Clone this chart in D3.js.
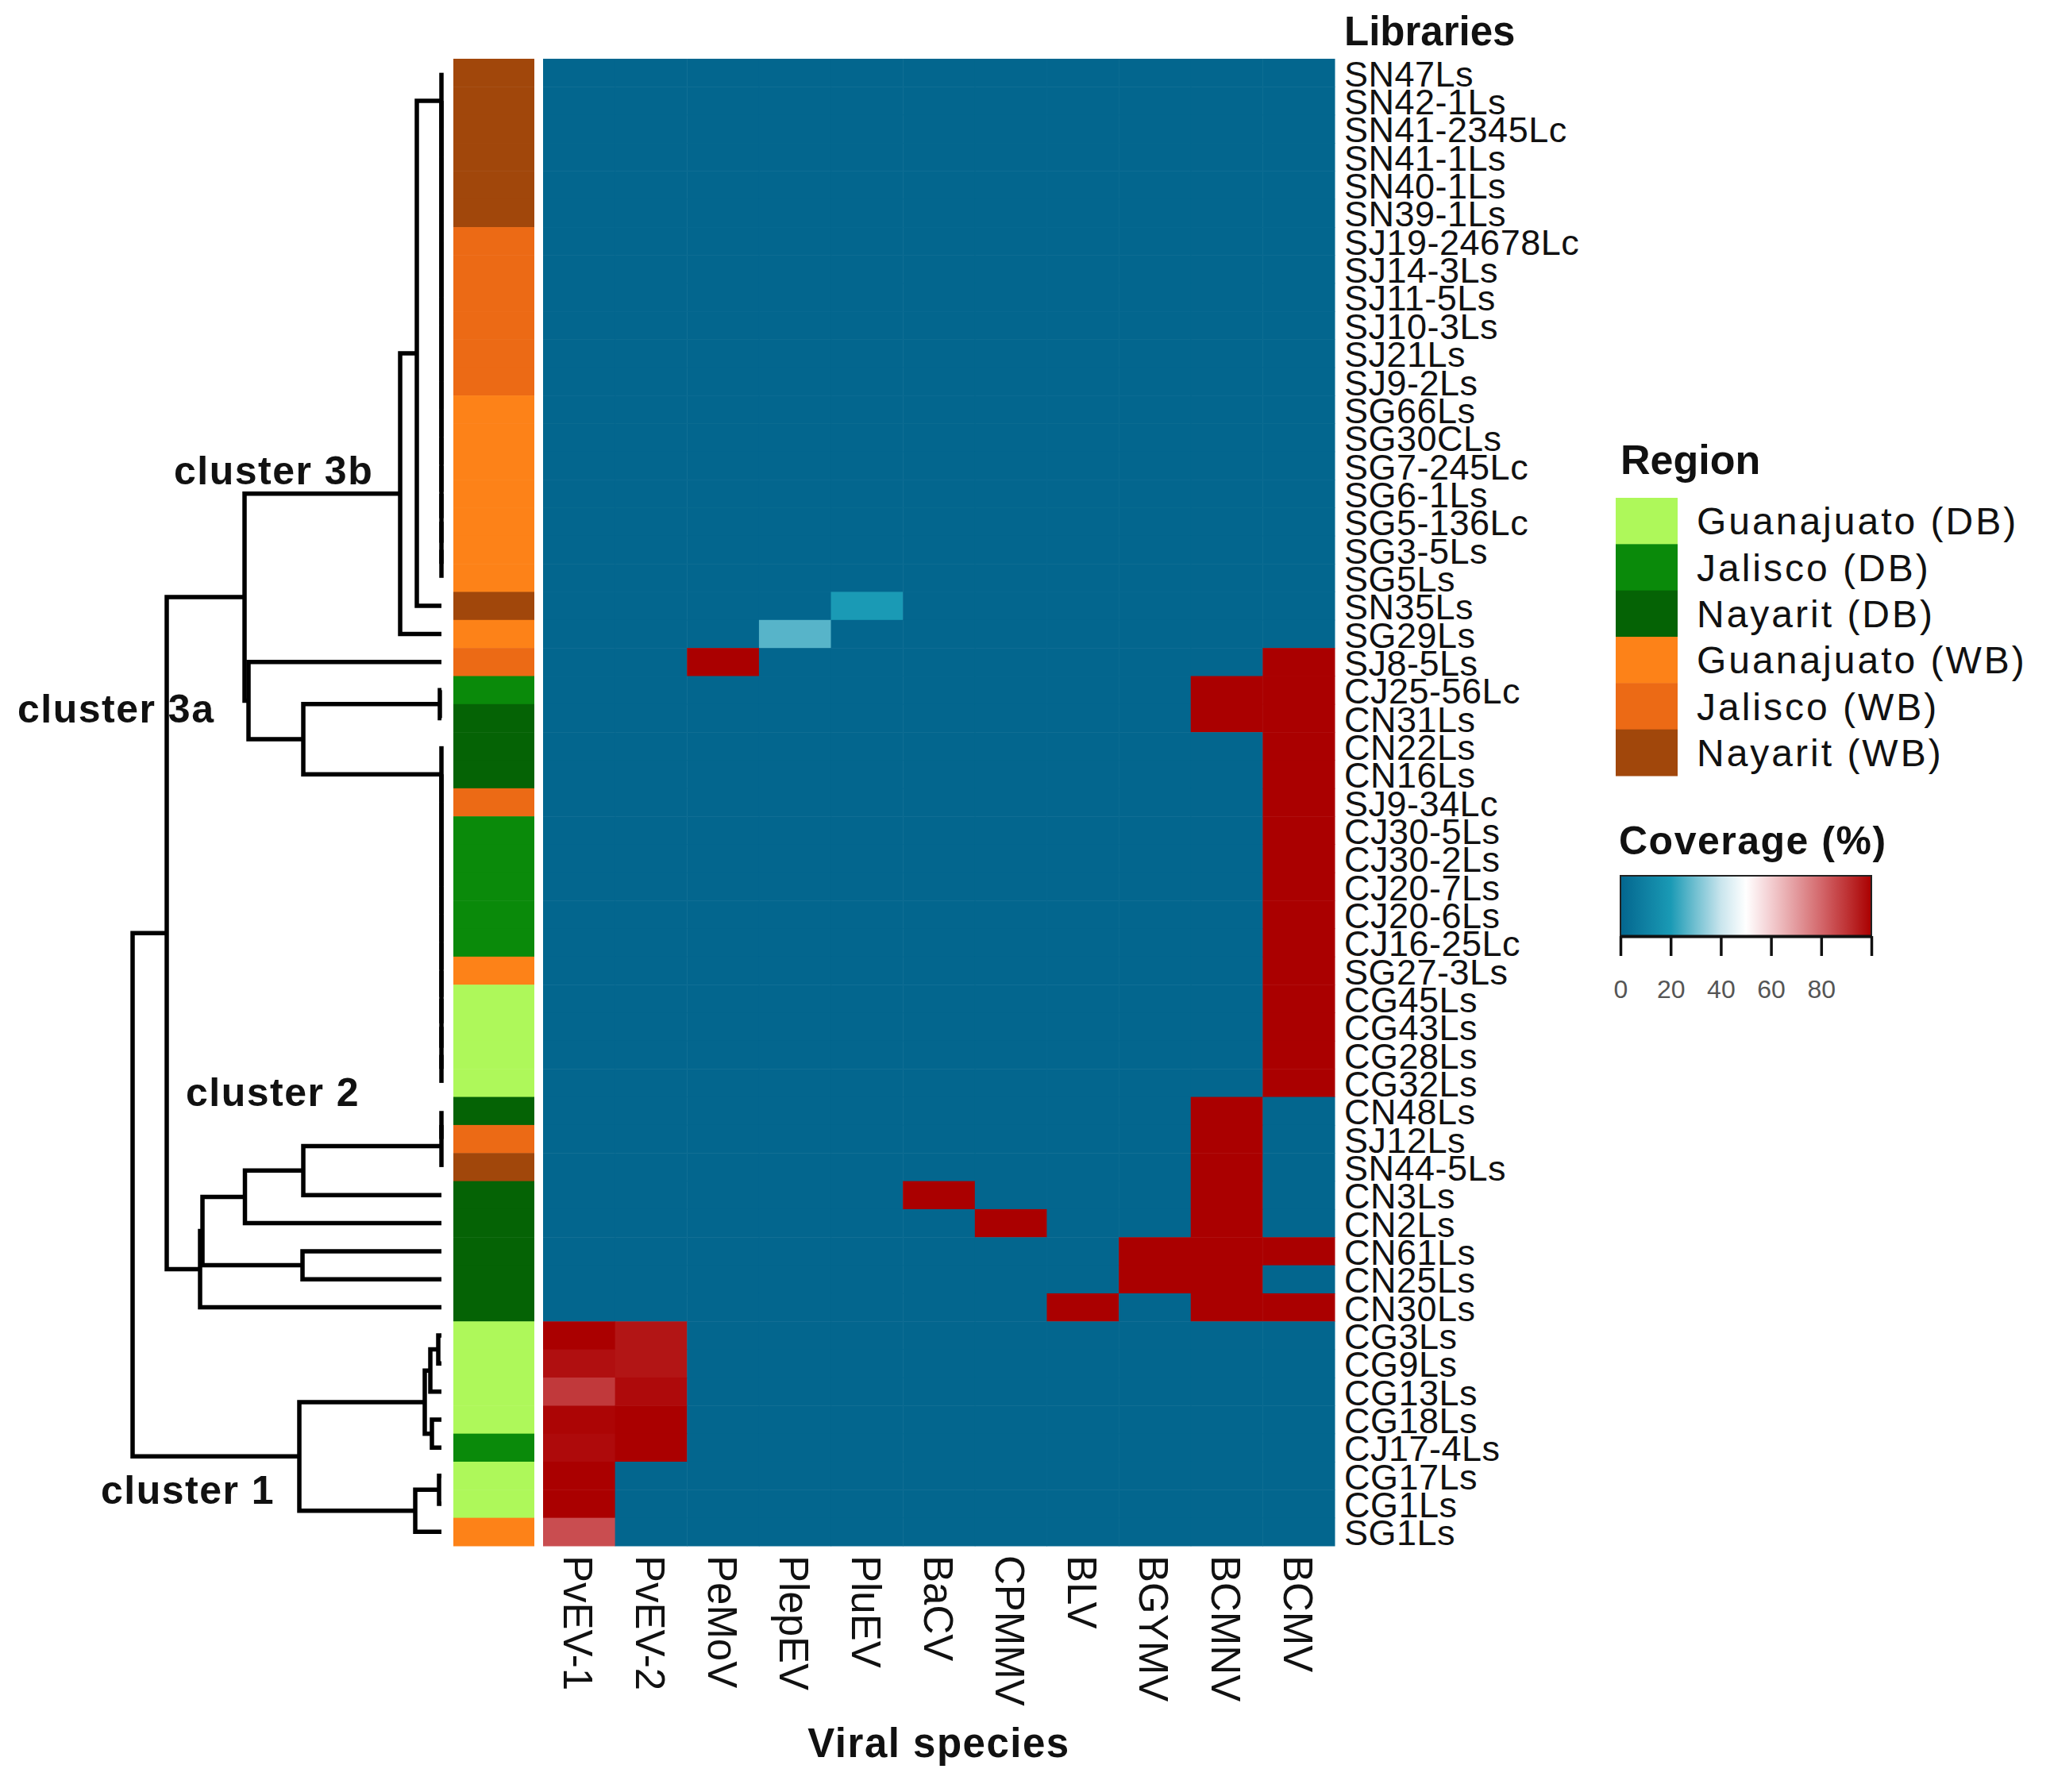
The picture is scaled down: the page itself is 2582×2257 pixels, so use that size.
<!DOCTYPE html>
<html>
<head>
<meta charset="utf-8">
<script src="https://cdn.jsdelivr.net/npm/d3@7"></script>
<style>
  body { margin: 0; background: #fff; }
  svg { display: block; font-family: 'Liberation Sans', Arial, sans-serif; }
</style>
</head>
<body>
<script>
// ---- data -------------------------------------------------------------

const libraries = [
  'SN47Ls', 'SN42-1Ls', 'SN41-2345Lc', 'SN41-1Ls', 'SN40-1Ls', 'SN39-1Ls',
  'SJ19-24678Lc', 'SJ14-3Ls', 'SJ11-5Ls', 'SJ10-3Ls', 'SJ21Ls', 'SJ9-2Ls',
  'SG66Ls', 'SG30CLs', 'SG7-245Lc', 'SG6-1Ls', 'SG5-136Lc', 'SG3-5Ls', 'SG5Ls',
  'SN35Ls', 'SG29Ls', 'SJ8-5Ls', 'CJ25-56Lc', 'CN31Ls', 'CN22Ls', 'CN16Ls',
  'SJ9-34Lc', 'CJ30-5Ls', 'CJ30-2Ls', 'CJ20-7Ls', 'CJ20-6Ls', 'CJ16-25Lc',
  'SG27-3Ls', 'CG45Ls', 'CG43Ls', 'CG28Ls', 'CG32Ls', 'CN48Ls', 'SJ12Ls',
  'SN44-5Ls', 'CN3Ls', 'CN2Ls', 'CN61Ls', 'CN25Ls', 'CN30Ls', 'CG3Ls', 'CG9Ls',
  'CG13Ls', 'CG18Ls', 'CJ17-4Ls', 'CG17Ls', 'CG1Ls', 'SG1Ls',
];

const viruses = ['PvEV-1', 'PvEV-2', 'PeMoV', 'PlepEV', 'PluEV', 'BaCV',
  'CPMMV', 'BLV', 'BGYMV', 'BCMNV', 'BCMV'];

const regionCodes = ['GDB', 'JDB', 'NDB', 'GWB', 'JWB', 'NWB'];
const regionNames = ['Guanajuato (DB)', 'Jalisco (DB)', 'Nayarit (DB)',
  'Guanajuato (WB)', 'Jalisco (WB)', 'Nayarit (WB)'];
const regionColors = ['#aef85a', '#0a8a0a', '#056305', '#fd8218', '#ec6a15', '#a1470b'];

// one region per library, same order as libraries
const libraryRegion = [
  'NWB', 'NWB', 'NWB', 'NWB', 'NWB', 'NWB',
  'JWB', 'JWB', 'JWB', 'JWB', 'JWB', 'JWB',
  'GWB', 'GWB', 'GWB', 'GWB', 'GWB', 'GWB', 'GWB',
  'NWB', 'GWB', 'JWB', 'JDB', 'NDB', 'NDB', 'NDB',
  'JWB', 'JDB', 'JDB', 'JDB', 'JDB', 'JDB',
  'GWB', 'GDB', 'GDB', 'GDB', 'GDB', 'NDB', 'JWB',
  'NWB', 'NDB', 'NDB', 'NDB', 'NDB', 'NDB', 'GDB', 'GDB',
  'GDB', 'GDB', 'JDB', 'GDB', 'GDB', 'GWB',
];

// coverage (%) per library, columns in the order of viruses
const coverage = [
  [0, 0, 0, 0, 0, 0, 0, 0, 0, 0, 0],        // SN47Ls
  [0, 0, 0, 0, 0, 0, 0, 0, 0, 0, 0],
  [0, 0, 0, 0, 0, 0, 0, 0, 0, 0, 0],
  [0, 0, 0, 0, 0, 0, 0, 0, 0, 0, 0],
  [0, 0, 0, 0, 0, 0, 0, 0, 0, 0, 0],
  [0, 0, 0, 0, 0, 0, 0, 0, 0, 0, 0],
  [0, 0, 0, 0, 0, 0, 0, 0, 0, 0, 0],        // SJ19-24678Lc
  [0, 0, 0, 0, 0, 0, 0, 0, 0, 0, 0],
  [0, 0, 0, 0, 0, 0, 0, 0, 0, 0, 0],
  [0, 0, 0, 0, 0, 0, 0, 0, 0, 0, 0],
  [0, 0, 0, 0, 0, 0, 0, 0, 0, 0, 0],
  [0, 0, 0, 0, 0, 0, 0, 0, 0, 0, 0],
  [0, 0, 0, 0, 0, 0, 0, 0, 0, 0, 0],        // SG66Ls
  [0, 0, 0, 0, 0, 0, 0, 0, 0, 0, 0],
  [0, 0, 0, 0, 0, 0, 0, 0, 0, 0, 0],
  [0, 0, 0, 0, 0, 0, 0, 0, 0, 0, 0],
  [0, 0, 0, 0, 0, 0, 0, 0, 0, 0, 0],
  [0, 0, 0, 0, 0, 0, 0, 0, 0, 0, 0],
  [0, 0, 0, 0, 0, 0, 0, 0, 0, 0, 0],        // SG5Ls
  [0, 0, 0, 0, 20, 0, 0, 0, 0, 0, 0],       // SN35Ls
  [0, 0, 0, 27, 0, 0, 0, 0, 0, 0, 0],       // SG29Ls
  [0, 0, 100, 0, 0, 0, 0, 0, 0, 0, 100],    // SJ8-5Ls
  [0, 0, 0, 0, 0, 0, 0, 0, 0, 100, 100],    // CJ25-56Lc
  [0, 0, 0, 0, 0, 0, 0, 0, 0, 100, 100],    // CN31Ls
  [0, 0, 0, 0, 0, 0, 0, 0, 0, 0, 100],      // CN22Ls
  [0, 0, 0, 0, 0, 0, 0, 0, 0, 0, 100],
  [0, 0, 0, 0, 0, 0, 0, 0, 0, 0, 100],
  [0, 0, 0, 0, 0, 0, 0, 0, 0, 0, 100],
  [0, 0, 0, 0, 0, 0, 0, 0, 0, 0, 100],
  [0, 0, 0, 0, 0, 0, 0, 0, 0, 0, 100],
  [0, 0, 0, 0, 0, 0, 0, 0, 0, 0, 100],
  [0, 0, 0, 0, 0, 0, 0, 0, 0, 0, 100],
  [0, 0, 0, 0, 0, 0, 0, 0, 0, 0, 100],
  [0, 0, 0, 0, 0, 0, 0, 0, 0, 0, 100],
  [0, 0, 0, 0, 0, 0, 0, 0, 0, 0, 100],
  [0, 0, 0, 0, 0, 0, 0, 0, 0, 0, 100],
  [0, 0, 0, 0, 0, 0, 0, 0, 0, 0, 100],      // CG32Ls
  [0, 0, 0, 0, 0, 0, 0, 0, 0, 100, 0],      // CN48Ls
  [0, 0, 0, 0, 0, 0, 0, 0, 0, 100, 0],
  [0, 0, 0, 0, 0, 0, 0, 0, 0, 100, 0],
  [0, 0, 0, 0, 0, 100, 0, 0, 0, 100, 0],    // CN3Ls
  [0, 0, 0, 0, 0, 0, 100, 0, 0, 100, 0],    // CN2Ls
  [0, 0, 0, 0, 0, 0, 0, 0, 100, 100, 100],  // CN61Ls
  [0, 0, 0, 0, 0, 0, 0, 0, 100, 100, 0],    // CN25Ls
  [0, 0, 0, 0, 0, 0, 0, 100, 0, 100, 100],  // CN30Ls
  [100, 96, 0, 0, 0, 0, 0, 0, 0, 0, 0],     // CG3Ls
  [97, 96, 0, 0, 0, 0, 0, 0, 0, 0, 0],
  [89, 98, 0, 0, 0, 0, 0, 0, 0, 0, 0],
  [99, 100, 0, 0, 0, 0, 0, 0, 0, 0, 0],
  [98, 100, 0, 0, 0, 0, 0, 0, 0, 0, 0],     // CJ17-4Ls
  [100, 0, 0, 0, 0, 0, 0, 0, 0, 0, 0],
  [100, 0, 0, 0, 0, 0, 0, 0, 0, 0, 0],
  [85, 0, 0, 0, 0, 0, 0, 0, 0, 0, 0],       // SG1Ls
];

// hclust style merges: negative = library (1-based row), positive = earlier merge
const mergePairs = [
  [-18, -19], [-17, 1], [-16, 2], [-15, 3], [-14, 4], [-13, 5], [-12, 6],
  [-11, 7], [-10, 8], [-9, 9], [-8, 10], [-7, 11], [-6, 12], [-5, 13],
  [-4, 14], [-3, 15], [-2, 16], [-1, 17],
  [-36, -37], [-35, 19], [-34, 20], [-33, 21], [-32, 22], [-31, 23],
  [-30, 24], [-29, 25], [-28, 26], [-27, 27], [-26, 28], [-25, 29],
  [-38, -39], [31, -40],
  [-23, -24], [-51, -52], [-46, -47], [-49, -50], [35, -48], [37, 36],
  [18, -20], [34, -53], [39, -21], [32, -41], [33, 30], [-43, -44],
  [38, 40], [-22, 43], [41, 46], [42, -42], [48, 44], [49, -45],
  [47, 50], [51, 45],
];
const mergeHeights = [
  0, 0, 0, 0, 0, 0, 0, 0, 0, 0, 0, 0, 0, 0, 0, 0, 0, 0,
  0, 0, 0, 0, 0, 0, 0, 0, 0, 0, 0, 0,
  0, 0,
  0.04, 0.06, 0.08, 0.24, 0.28, 0.42,
  0.62, 0.66, 1.04, 3.48, 3.48, 3.50,
  3.58, 4.86, 4.96, 4.95, 6.02, 6.08,
  6.92, 7.78,
];

const clusterLabels = ['cluster 3b', 'cluster 3a', 'cluster 2', 'cluster 1'];
const clusterNodes = [41, 43, 50, 45];

const coverageStops = [0, 20, 40, 50, 60, 80, 100];
const coverageColors = ['#03668e', '#1a9ab5', '#c9e5ed', '#ffffff', '#f3cdd0', '#d3676b', '#aa0000'];
const coverageTicks = [0, 20, 40, 60, 80, 100];

// ---- layout -----------------------------------------------------------

const w = 2582;
const h = 2257;
const heat = { left: 684, right: 1681, top: 74, bottom: 1947 };
const annot = { left: 571, right: 673 };
const dendro = { leaf: 556, root: 167 };
// label offsets from their cluster node
const clusterOffsets = [[-285, -12], [-360, -21], [-18, -206], [-250, 60]];

const svg = d3.select('body').append('svg').attr('width', w).attr('height', h);

const x = d3.scaleBand().domain(viruses).range([heat.left, heat.right]);
const y = d3.scaleBand().domain(libraries).range([heat.top, heat.bottom]);
const color = d3.scaleLinear().domain(coverageStops).range(coverageColors);
const regionColor = d3.scaleOrdinal().domain(regionCodes).range(regionColors);
const hx = d3.scaleLinear().domain([0, d3.max(mergeHeights)]).range([dendro.leaf, dendro.root]);

// ---- heatmap ----------------------------------------------------------

const cells = libraries.flatMap((lib, i) =>
  viruses.map((v, j) => ({ lib, v, value: coverage[i][j] }))
);

svg.append('g')
  .selectAll('rect')
  .data(cells)
  .enter()
  .append('rect')
  .attr('x', (d) => x(d.v))
  .attr('y', (d) => y(d.lib))
  .attr('width', x.bandwidth() + 0.5)
  .attr('height', y.bandwidth() + 0.5)
  .attr('fill', (d) => color(d.value));

// region annotation
svg.append('g')
  .selectAll('rect')
  .data(libraries)
  .enter()
  .append('rect')
  .attr('x', annot.left)
  .attr('y', (d) => y(d))
  .attr('width', annot.right - annot.left)
  .attr('height', y.bandwidth() + 0.5)
  .attr('fill', (d, i) => regionColor(libraryRegion[i]));

// row labels
svg.append('g')
  .selectAll('text')
  .data(libraries)
  .enter()
  .append('text')
  .attr('x', heat.right + 12)
  .attr('y', (d) => y(d) + y.bandwidth() / 2)
  .attr('dy', '0.38em')
  .attr('font-size', 45)
  .attr('letter-spacing', 0.5)
  .attr('fill', '#111')
  .text((d) => d);

svg.append('text')
  .attr('x', heat.right + 12)
  .attr('y', 57)
  .attr('font-size', 51)
  .attr('font-weight', 'bold')
  .attr('fill', '#111')
  .text('Libraries');

// column labels, rotated
svg.append('g')
  .selectAll('text')
  .data(viruses)
  .enter()
  .append('text')
  .attr('transform', (d) => `translate(${x(d) + x.bandwidth() / 2 - 19}, ${heat.bottom + 12}) rotate(90)`)
  .attr('font-size', 51)
  .attr('fill', '#111')
  .text((d) => d);

svg.append('text')
  .attr('x', (heat.left + heat.right) / 2)
  .attr('y', 2213)
  .attr('text-anchor', 'middle')
  .attr('font-size', 51)
  .attr('font-weight', 'bold')
  .attr('letter-spacing', 1.5)
  .attr('fill', '#111')
  .text('Viral species');

// ---- dendrogram -------------------------------------------------------

const nodes = [];
const nodeOf = (ref) =>
  ref < 0
    ? { y: y(libraries[-ref - 1]) + y.bandwidth() / 2, h: 0 }
    : nodes[ref - 1];

mergePairs.forEach(([a, b], i) => {
  const pa = nodeOf(a);
  const pb = nodeOf(b);
  nodes.push({ a: pa, b: pb, h: mergeHeights[i], y: (pa.y + pb.y) / 2 });
});

svg.append('g')
  .selectAll('path')
  .data(nodes)
  .enter()
  .append('path')
  .attr('d', (d) => {
    const p = d3.path();
    p.moveTo(hx(d.a.h), d.a.y);
    p.lineTo(hx(d.h), d.a.y);
    p.lineTo(hx(d.h), d.b.y);
    p.lineTo(hx(d.b.h), d.b.y);
    return p.toString();
  })
  .attr('fill', 'none')
  .attr('stroke', '#000')
  .attr('stroke-width', 5.5);

svg.append('g')
  .selectAll('text')
  .data(clusterLabels)
  .enter()
  .append('text')
  .attr('x', (d, i) => hx(nodes[clusterNodes[i] - 1].h) + clusterOffsets[i][0])
  .attr('y', (d, i) => nodes[clusterNodes[i] - 1].y + clusterOffsets[i][1])
  .attr('font-size', 50)
  .attr('font-weight', 'bold')
  .attr('letter-spacing', 1.5)
  .attr('fill', '#111')
  .text((d) => d);

// ---- legends ----------------------------------------------------------

const legend = svg.append('g').attr('transform', 'translate(2035, 0)');

legend.append('text')
  .attr('x', 6)
  .attr('y', 597)
  .attr('font-size', 52)
  .attr('font-weight', 'bold')
  .attr('fill', '#111')
  .text('Region');

const swatch = d3.scaleBand().domain(regionCodes).range([627, 977]);

legend.selectAll('rect.region')
  .data(regionCodes)
  .enter()
  .append('rect')
  .attr('class', 'region')
  .attr('x', 0)
  .attr('y', (d) => swatch(d))
  .attr('width', 78)
  .attr('height', swatch.bandwidth() + 0.5)
  .attr('fill', (d) => regionColor(d));

legend.selectAll('text.region')
  .data(regionCodes)
  .enter()
  .append('text')
  .attr('class', 'region')
  .attr('x', 102)
  .attr('y', (d) => swatch(d) + swatch.bandwidth() / 2)
  .attr('dy', '0.36em')
  .attr('font-size', 48)
  .attr('letter-spacing', 3)
  .attr('fill', '#111')
  .text((d, i) => regionNames[i]);

legend.append('text')
  .attr('x', 4)
  .attr('y', 1076)
  .attr('font-size', 50)
  .attr('font-weight', 'bold')
  .attr('letter-spacing', 1.5)
  .attr('fill', '#111')
  .text('Coverage (%)');

const legendX = d3.scaleLinear().domain([0, 100]).range([6, 322]);

const grad = svg.append('defs')
  .append('linearGradient')
  .attr('id', 'cov-grad')
  .attr('x1', '0%')
  .attr('x2', '100%');

grad.selectAll('stop')
  .data(d3.range(0, 101, 5))
  .enter()
  .append('stop')
  .attr('offset', (d) => d + '%')
  .attr('stop-color', (d) => color(d));

legend.append('rect')
  .attr('x', legendX(0))
  .attr('y', 1103)
  .attr('width', legendX(100) - legendX(0))
  .attr('height', 76)
  .attr('fill', 'url(#cov-grad)')
  .attr('stroke', '#222')
  .attr('stroke-width', 2);

const legendAxis = d3.axisBottom(legendX)
  .tickValues(coverageTicks)
  .tickFormat((d) => (d === 100 ? '' : d))
  .tickSize(25)
  .tickSizeOuter(0)
  .tickPadding(30);

const axisG = legend.append('g')
  .attr('transform', 'translate(0, 1179)')
  .call(legendAxis);

axisG.select('.domain').attr('stroke', '#111').attr('stroke-width', 4);
axisG.selectAll('.tick line').attr('stroke', '#111').attr('stroke-width', 3.5);
axisG.selectAll('.tick text')
  .attr('font-size', 32)
  .attr('font-family', "'Liberation Sans', Arial, sans-serif")
  .attr('fill', '#555');
</script>
</body>
</html>
